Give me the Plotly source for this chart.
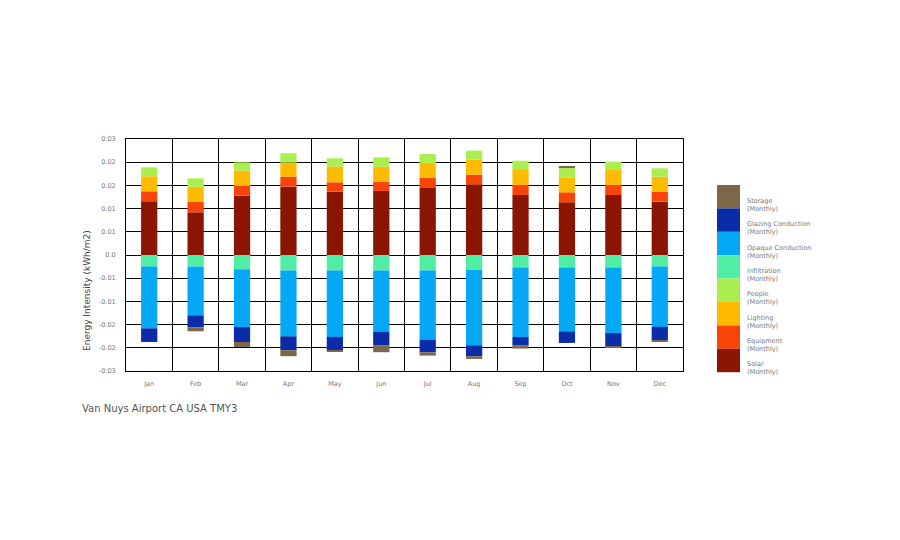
import plotly.graph_objects as go

# monthly energy balance components (kWh/m2)
months = ["Jan", "Feb", "Mar", "Apr", "May", "Jun", "Jul", "Aug", "Sep", "Oct", "Nov", "Dec"]

solar = [0.01157, 0.0092, 0.01278, 0.01472, 0.01364, 0.0138, 0.01444, 0.01523, 0.01293, 0.01135, 0.01293, 0.01149]
equipment = [0.00216, 0.00222, 0.00209, 0.00216, 0.00203, 0.0020, 0.00222, 0.00209, 0.00216, 0.00216, 0.00216, 0.00216]
lighting = [0.00323, 0.0033, 0.0033, 0.00302, 0.00336, 0.00323, 0.00316, 0.00323, 0.00323, 0.00315, 0.00323, 0.00323]
people = [0.00194, 0.0018, 0.0018, 0.00203, 0.0018, 0.0020, 0.00194, 0.00194, 0.0020, 0.00209, 0.0018, 0.0018]
infiltration = [-0.0025, -0.0025, -0.00308, -0.00336, -0.00336, -0.00336, -0.00336, -0.00322, -0.00272, -0.00272, -0.00272, -0.0025]
opaque = [-0.0133, -0.0105, -0.01245, -0.01416, -0.0143, -0.01316, -0.01488, -0.01624, -0.01495, -0.01373, -0.0141, -0.0130]
glazing = [-0.00294, -0.00258, -0.00322, -0.0030, -0.00294, -0.0030, -0.00272, -0.00236, -0.00186, -0.0025, -0.0030, -0.00286]
storage = [0.0, -0.00086, -0.00107, -0.00129, -0.0002, -0.00143, -0.00072, -0.00057, -0.00064, 0.0003, -0.0001, -0.00036]

y_ticks = [0.025, 0.02, 0.015, 0.01, 0.005, 0.0, -0.005, -0.01, -0.015, -0.02, -0.025]
y_ticktext = ["0.03", "0.02", "0.02", "0.01", "0.01", "0.0", "-0.01", "-0.01", "-0.02", "-0.02", "-0.03"]

# stacking order (bottom-up for positives, top-down for negatives)
series = [
    ("Solar", solar, "#8a1500"),
    ("Equipment", equipment, "#f84408"),
    ("Lighting", lighting, "#ffbb00"),
    ("People", people, "#aaee50"),
    ("Infiltration", infiltration, "#50eea5"),
    ("Opaque Conduction", opaque, "#05a8f5"),
    ("Glazing Conduction", glazing, "#0a2ca8"),
    ("Storage", storage, "#7d6748"),
]
legend_order = ["Storage", "Glazing Conduction", "Opaque Conduction", "Infiltration",
                "People", "Lighting", "Equipment", "Solar"]

x = list(range(len(months)))

fig = go.Figure()
for name, vals, col in series:
    fig.add_trace(go.Bar(x=x, y=vals, name=name, marker=dict(color=col, line=dict(width=0)),
                         width=0.35, showlegend=False))

# page is offset by the body margin, so work in figure pixels = screen - OFF
OFF = 8
W, H = 900 - 2 * OFF, 540 - 2 * OFF
L, R, T, B = 126 - OFF, 683 - OFF, 139 - OFF, 371 - OFF


def px_x(p):
    return (p - OFF - L) / (R - L)


def px_y(p):
    return (B - (p - OFF)) / (B - T)


font = "DejaVu Sans, Verdana, sans-serif"
shapes = []
annotations = []
colors = {n: c for n, _, c in series}
sw_top, sw_h = 185, 23.4
for i, name in enumerate(legend_order):
    y0 = sw_top + i * sw_h
    shapes.append(dict(type="rect", xref="paper", yref="paper",
                       x0=px_x(717), x1=px_x(740), y0=px_y(y0 + sw_h), y1=px_y(y0),
                       fillcolor=colors[name], line=dict(width=0)))
    annotations.append(dict(xref="paper", yref="paper", x=px_x(745), y=px_y(y0 + sw_h / 2 + 8),
                            xanchor="left", yanchor="middle", showarrow=False, align="left",
                            text=name + "<br>(Monthly)",
                            font=dict(family=font, size=6.5, color="#777")))

annotations.append(dict(xref="paper", yref="paper", x=px_x(87), y=px_y(291),
                        xanchor="center", yanchor="middle", showarrow=False, textangle=-90,
                        text="Energy Intensity (kWh/m2)",
                        font=dict(family=font, size=9, color="#444")))
annotations.append(dict(xref="paper", yref="paper", x=px_x(80), y=px_y(408),
                        xanchor="left", yanchor="middle", showarrow=False,
                        text="Van Nuys Airport CA USA TMY3",
                        font=dict(family=font, size=10, color="#555")))

fig.update_layout(
    width=W, height=H,
    margin=dict(l=L, r=W - R, t=T, b=H - B),
    barmode="relative",
    plot_bgcolor="white", paper_bgcolor="white",
    shapes=shapes, annotations=annotations,
    font=dict(family=font),
)
fig.update_xaxes(
    range=[-0.5, 11.5], tickvals=x, ticktext=months, showgrid=False,
    tickfont=dict(size=6.5, color="#777"), ticklabelstandoff=6,
    showline=True, linecolor="black", linewidth=1, mirror=True,
    minor=dict(tickvals=[i + 0.5 for i in x[:-1]], showgrid=True, gridcolor="black", gridwidth=1, ticks=""),
)
fig.update_yaxes(
    range=[-0.025, 0.025], tickvals=y_ticks, ticktext=y_ticktext,
    showgrid=True, gridcolor="black", gridwidth=1,
    zeroline=True, zerolinecolor="black", zerolinewidth=1,
    tickfont=dict(size=6.5, color="#777"), ticklabelstandoff=8,
    showline=True, linecolor="black", linewidth=1, mirror=True,
)

fig.write_html("out.html")
